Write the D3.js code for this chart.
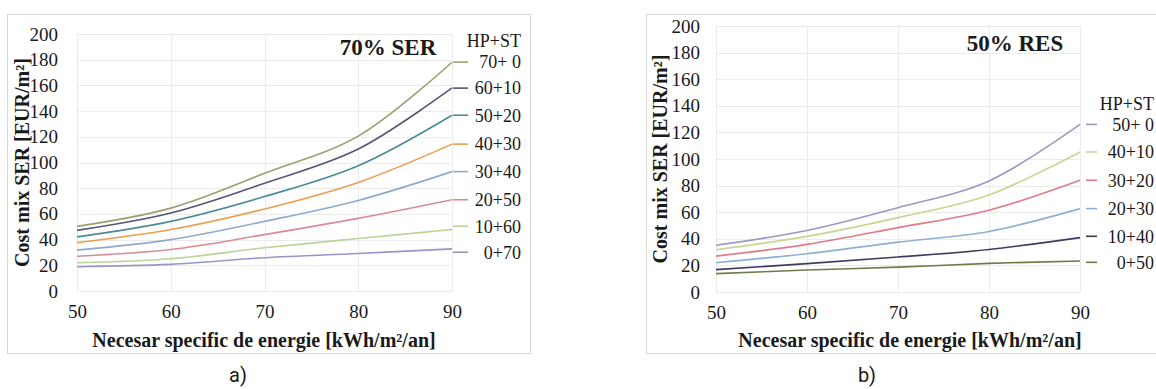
<!DOCTYPE html>
<html>
<head>
<meta charset="utf-8">
<script src="https://cdn.jsdelivr.net/npm/d3@7"></script>
<style>
  body { margin: 0; background: #fff; }
  svg text { font-family: "Liberation Serif", "Times New Roman", serif; fill: #1a1a1a; }
</style>
</head>
<body>
<svg id="chart" width="1156" height="389"></svg>
<script>
// x categories (kWh/m2/an)
const xValues = [50, 60, 70, 80, 90];
const yTicks = [0, 20, 40, 60, 80, 100, 120, 140, 160, 180, 200];

// panel a) 70% SER
const namesA = ["70+ 0", "60+10", "50+20", "40+30", "30+40", "20+50", "10+60", "0+70"];
const valuesA = [
  [50.3, 64.5, 91.6, 120.5, 178],
  [47.2, 60.7, 83.9, 110.5, 158],
  [42.1, 54.2, 73.5, 97.5, 136.8],
  [37.5, 47.8, 63.8, 84.5, 114.3],
  [31.8, 40.0, 54.2, 70.5, 92.9],
  [27.1, 32.3, 43.9, 56.5, 71],
  [22.0, 25.1, 33.6, 40.8, 47.8],
  [18.9, 20.7, 25.9, 29.2, 32.8]
];
const colorsA = ["#9c9f72", "#57557a", "#4b8b98", "#ee9c4c", "#8fa9d0", "#d98c97", "#bcd396", "#9a94c8"];

// panel b) 50% RES
const namesB = ["50+ 0", "40+10", "30+20", "20+30", "10+40", "0+50"];
const valuesB = [
  [35.1, 46.3, 63.4, 83.5, 126],
  [31.8, 41.8, 55.9, 73, 105.3],
  [27.0, 35.8, 48.4, 61.5, 84],
  [22.0, 28.8, 37.5, 45.5, 62.7],
  [16.8, 21.3, 26.3, 32.0, 40.9],
  [13.8, 16.5, 18.7, 21.5, 23.3]
];
const colorsB = ["#9b99c2", "#c9d68e", "#e07c88", "#8eb0d6", "#3e3c5c", "#6d7c4c"];

const svg = d3.select("#chart");

function drawPanel(cfg) {
  const g = svg.append("g");

  // panel frame
  g.append("rect")
    .attr("x", cfg.frame[0] + 0.5).attr("y", cfg.frame[1] + 0.5)
    .attr("width", cfg.frame[2]).attr("height", cfg.frame[3])
    .attr("fill", "#fff").attr("stroke", "#d9d9d9");

  const x = d3.scaleLinear().domain([50, 90]).range([cfg.left, cfg.right]);
  const y = d3.scaleLinear().domain([0, 200]).range([cfg.bottom, cfg.top]);

  // grid
  g.selectAll("line.hg").data(yTicks).join("line")
    .attr("x1", cfg.left).attr("x2", cfg.right)
    .attr("y1", d => Math.round(y(d)) + 0.5).attr("y2", d => Math.round(y(d)) + 0.5)
    .attr("stroke", "#ebebeb");
  g.selectAll("line.vg").data(xValues).join("line")
    .attr("x1", d => Math.round(x(d)) + 0.5).attr("x2", d => Math.round(x(d)) + 0.5)
    .attr("y1", cfg.top).attr("y2", cfg.bottom)
    .attr("stroke", "#ebebeb");

  // axes (labels only)
  const yAxis = g.append("g")
    .attr("transform", `translate(${cfg.left},0)`)
    .call(d3.axisLeft(y).tickValues(yTicks).tickSize(0).tickPadding(cfg.yPad));
  yAxis.select(".domain").remove();
  yAxis.selectAll("text").style("font-size", "19px").attr("fill", "#1a1a1a");

  const xAxis = g.append("g")
    .attr("transform", `translate(0,${cfg.bottom})`)
    .call(d3.axisBottom(x).tickValues(xValues).tickSize(0).tickPadding(14));
  xAxis.select(".domain").remove();
  xAxis.selectAll("text").style("font-size", "19px").attr("fill", "#1a1a1a");

  // series
  const line = d3.line()
    .x((d, i) => x(xValues[i]))
    .y(d => y(d))
    .curve(d3.curveCatmullRom.alpha(0.5));

  g.selectAll("path.series").data(cfg.values).join("path")
    .attr("class", "series")
    .attr("d", line)
    .attr("fill", "none")
    .attr("stroke", (d, i) => cfg.colors[i])
    .attr("stroke-width", 1.6);

  // end labels, spread so they don't overlap
  const ly = cfg.values.map(v => y(v[v.length - 1]));
  for (let it = 0; it < 50; it++) {
    for (let i = 1; i < ly.length; i++) {
      const gap = ly[i] - ly[i - 1];
      if (gap < 26) {
        const m = (26 - gap) / 2;
        ly[i - 1] -= m; ly[i] += m;
      }
    }
  }
  const lab = g.selectAll("g.lab").data(cfg.names).join("g").attr("class", "lab");
  lab.append("line")
    .attr("x1", cfg.right + cfg.dashGap).attr("x2", cfg.right + cfg.dashGap + cfg.dashLen)
    .attr("y1", (d, i) => ly[i]).attr("y2", (d, i) => ly[i])
    .attr("stroke", (d, i) => cfg.colors[i]).attr("stroke-width", 1.6);
  lab.append("text")
    .attr("x", cfg.labelRight).attr("y", (d, i) => ly[i])
    .attr("dy", "0.35em").attr("text-anchor", "end")
    .style("font-size", "18px").style("white-space", "pre")
    .text(d => d);

  g.append("text")
    .attr("x", cfg.labelRight).attr("y", cfg.legendTitleY)
    .attr("text-anchor", "end").attr("dy", "0.35em")
    .style("font-size", "18px")
    .text("HP+ST");

  // title inside plot
  g.append("text")
    .attr("x", cfg.titleX).attr("y", cfg.titleY)
    .attr("text-anchor", "middle").attr("dy", "0.35em")
    .style("font-size", "23px").style("font-weight", "bold")
    .text(cfg.title);

  // axis titles
  g.append("text")
    .attr("transform", `translate(${cfg.yTitleX},${(cfg.top + cfg.bottom) / 2}) rotate(-90)`)
    .attr("text-anchor", "middle").attr("dy", "0.35em")
    .style("font-size", "20px").style("font-weight", "bold")
    .text("Cost mix SER [EUR/m²]");

  g.append("text")
    .attr("x", cfg.xTitleX).attr("y", 340)
    .attr("text-anchor", "middle").attr("dy", "0.35em")
    .style("font-size", "20px").style("font-weight", "bold")
    .text("Necesar specific de energie [kWh/m²/an]");

  // caption under the panel
  svg.append("text")
    .attr("x", cfg.captionX).attr("y", 375)
    .attr("text-anchor", "middle").attr("dy", "0.35em")
    .style("font-family", "Roboto, sans-serif").style("font-size", "20px")
    .text(cfg.caption);
}

drawPanel({
  frame: [7, 14, 523, 339],
  left: 77, right: 452, top: 34, bottom: 291,
  yPad: 19, yTitleX: 22, xTitleX: 264,
  values: valuesA, names: namesA, colors: colorsA,
  dashGap: 1, dashLen: 15, labelRight: 521, legendTitleY: 41,
  title: "70% SER", titleX: 388, titleY: 47,
  caption: "a)", captionX: 238
});

drawPanel({
  frame: [646, 14, 520, 339],
  left: 716, right: 1080, top: 26, bottom: 292,
  yPad: 16, yTitleX: 660, xTitleX: 910,
  values: valuesB, names: namesB, colors: colorsB,
  dashGap: 6, dashLen: 11, labelRight: 1154, legendTitleY: 104,
  title: "50% RES", titleX: 1015, titleY: 43,
  caption: "b)", captionX: 867
});
</script>
</body>
</html>
